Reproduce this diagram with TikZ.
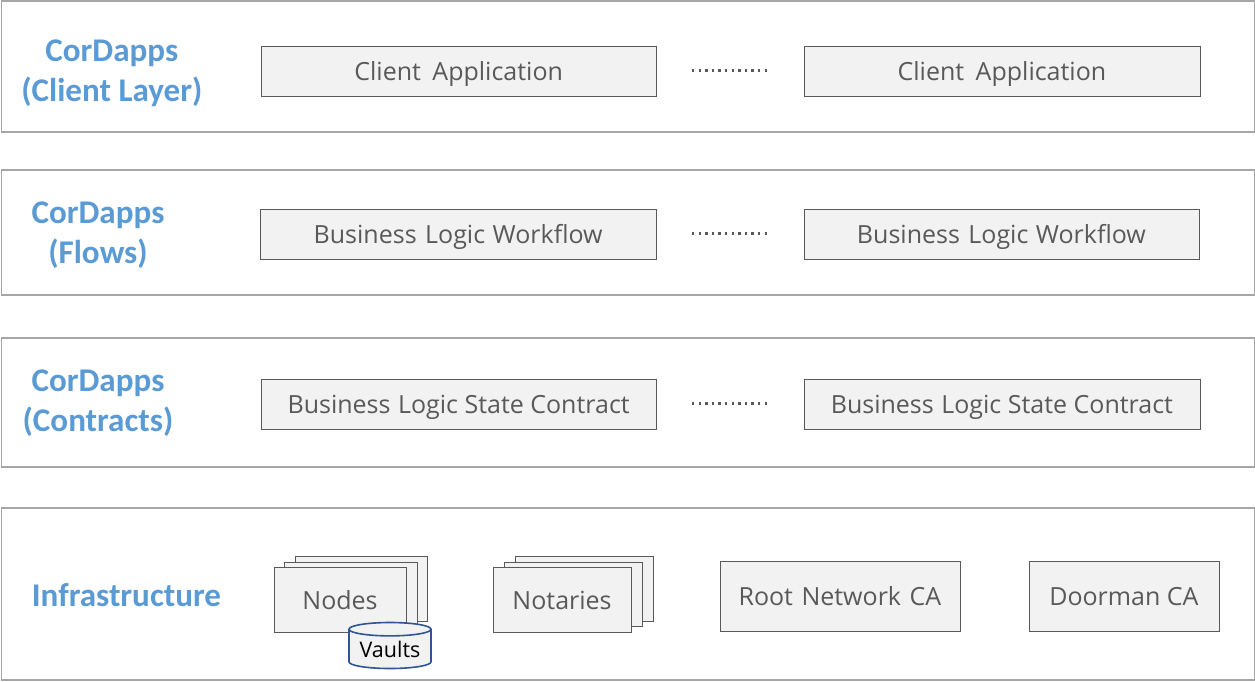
\documentclass[tikz,border=0pt]{standalone}
\usepackage{fontspec}
\setmainfont{Open Sans}
\newfontfamily\headfont{Carlito}
\usetikzlibrary{shapes.geometric}
\definecolor{frameg}{HTML}{A6A6A6}
\definecolor{boxg}{HTML}{F2F2F2}
\definecolor{edgeg}{HTML}{595959}
\definecolor{textg}{HTML}{595959}
\definecolor{headb}{HTML}{5B9BD5}
\definecolor{vaultb}{HTML}{2F5597}
\tikzset{x=1pt,y=-1pt,
 layer/.style={draw=frameg,line width=1.8pt,fill=white},
 cbox/.style={draw=edgeg,line width=0.8pt,fill=boxg,text=textg,font=\fontsize{25}{25}\selectfont,inner sep=0pt,text height=20pt,text depth=0pt},
 head/.style={text=headb,font=\headfont\bfseries\fontsize{33.1}{40}\selectfont,align=center,inner sep=0pt},
 dots/.style={draw=textg,line width=2.4pt,dash pattern=on 2.4pt off 4.2pt}}
\newcommand{\boxat}[6]{\node[cbox,minimum width=#4-#2,minimum height=#5-#3,anchor=north west] (#1) at (#2,#3) {#6};}
\begin{document}
\begin{tikzpicture}
\useasboundingbox (1,1) rectangle (1256,682);
\node[layer,minimum width=1253,minimum height=131,anchor=north west,inner sep=0pt] (l1) at (1.5,1) {};
\node[layer,minimum width=1253,minimum height=125,anchor=north west,inner sep=0pt] (l2) at (1.5,170) {};
\node[layer,minimum width=1253,minimum height=129,anchor=north west,inner sep=0pt] (l3) at (1.5,338) {};
\node[layer,minimum width=1253,minimum height=172,anchor=north west,inner sep=0pt] (l4) at (1.5,508) {};
\node[head] (h1) at (112.8,74) {CorDapps\\(Client Layer)};
\node[head] (h2) at (99,236) {CorDapps\\(Flows)};
\node[head] (h3) at (99,404) {CorDapps\\(Contracts)};
\node[head] (h4) at (127.5,596) {Infrastructure};
\boxat{a1}{261.5}{46.5}{657}{96.5}{Client\hspace{5pt} Application}
\boxat{a2}{804.5}{46.5}{1200.5}{96.5}{Client\hspace{5pt} Application}
\boxat{b1}{260.5}{209.5}{657}{259.5}{Business\hspace{2pt} Logic\hspace{1pt} Workflow}
\boxat{b2}{804.5}{209.5}{1199.5}{259.5}{Business\hspace{2pt} Logic\hspace{1pt} Workflow}
\boxat{c1}{261.5}{379.5}{657}{429.5}{Business\hspace{1pt} Logic State Contract}
\boxat{c2}{804.5}{379.5}{1200.5}{429.5}{Business\hspace{1pt} Logic State Contract}
\coordinate (d1a) at (693,71.3); \coordinate (d1b) at (769.5,71.3);
\coordinate (d2a) at (693,234.3); \coordinate (d2b) at (769.5,234.3);
\coordinate (d3a) at (693,404.3); \coordinate (d3b) at (769.5,404.3);
\draw[dots] (d1a)--(d1b); \draw[dots] (d2a)--(d2b); \draw[dots] (d3a)--(d3b);
\boxat{n3}{295.5}{556.5}{427.5}{621.5}{}
\boxat{n2}{284.5}{562.5}{417.5}{626.5}{}
\boxat{n1}{274.5}{567.5}{406.8}{632.5}{Nodes}
\boxat{o3}{515.5}{556.5}{653.5}{621.5}{}
\boxat{o2}{504.5}{562.5}{642.5}{626.5}{}
\boxat{o1}{493.5}{567.5}{631.8}{632.5}{Notaries}
\boxat{r}{720.5}{561.5}{960.5}{631.5}{Root\hspace{2pt} Network\hspace{2pt} CA}
\boxat{dm}{1029.5}{561.5}{1219.5}{631.5}{Doorman CA}
\node[cylinder,anchor=shape center,shape border rotate=90,aspect=0.22,draw=vaultb,line width=1.6pt,cylinder uses custom fill,cylinder body fill=boxg,cylinder end fill=boxg,minimum width=82pt,minimum height=46pt,inner sep=0pt,text=black,font=\fontsize{21.5}{21.5}\selectfont] (v) at (391,646.5) {Vaults};
\end{tikzpicture}
\end{document}
